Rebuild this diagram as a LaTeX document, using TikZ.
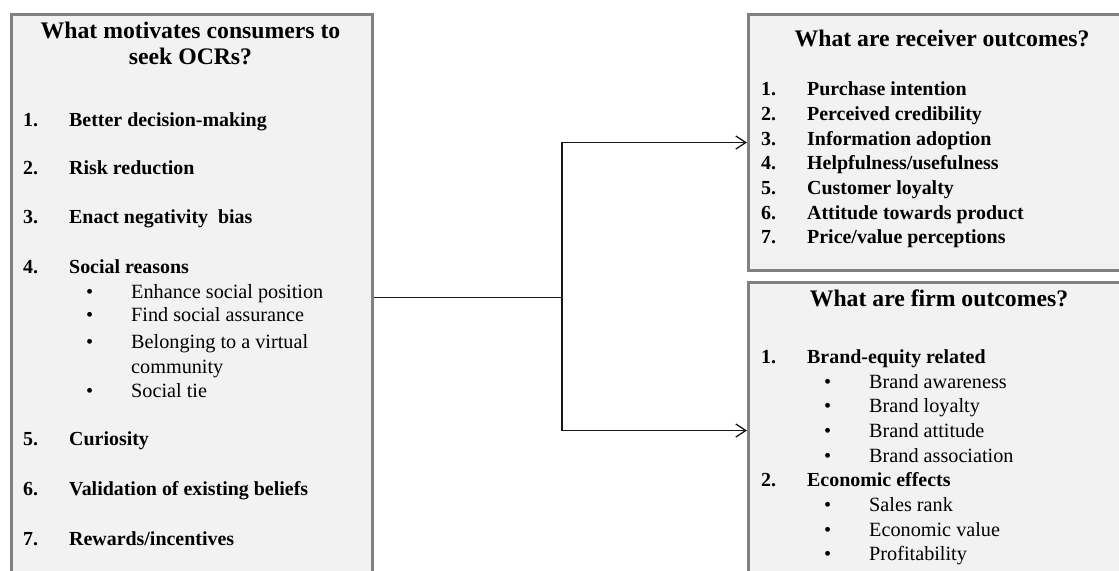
\documentclass[tikz,border=0pt]{standalone}
\usepackage{fontspec}
\setmainfont{Liberation Serif}
\usetikzlibrary{arrows.meta}
\definecolor{boxgray}{HTML}{808080}
\definecolor{boxfill}{HTML}{F2F2F2}
\begin{document}
\begin{tikzpicture}[x=1bp,y=-1bp,
 box/.style={draw=boxgray, line width=3bp, fill=boxfill, inner sep=0pt},
 ttl/.style={font=\fontsize{23.8}{28}\selectfont\bfseries, anchor=base, inner sep=0pt},
 itm/.style={font=\fontsize{20}{24}\selectfont\bfseries, anchor=base west, inner sep=0pt},
 sub/.style={font=\fontsize{20.3}{24}\selectfont, anchor=base west, inner sep=0pt},
 conn/.style={line width=1.3bp, draw=black!90},
 arr/.style={conn, -{Straight Barb[length=10bp,width=13bp]}}
]
\useasboundingbox (0,0) rectangle (1119,571);
\begin{scope}
\clip (0,0) rectangle (1119,571);
% boxes
\node[box, minimum width=361bp, minimum height=566bp, anchor=north west] (L) at (10,13) {};
\node[box, minimum width=420bp, minimum height=256bp, anchor=north west] (R1) at (747,13) {};
\node[box, minimum width=420bp, minimum height=296bp, anchor=north west] (R2) at (747,281) {};
\end{scope}
% connectors
\path (L.east) ++(188,0) coordinate (J);
\draw[conn] (L.east) -- (J);
\draw[arr] (J) |- (R1.west);
\draw[arr] (J) |- (R2.west);
% left box text
\node[ttl] (lt1) at (190.5,38.5) {What motivates consumers to};
\node[ttl] (lt2) at (190.5,65) {seek OCRs?};
\node[itm] (ln1) at (23,127) {1.};
\node[itm] (lx1) at (69,127) {Better decision-making};
\node[itm] (ln2) at (23,175) {2.};
\node[itm] (lx2) at (69,175) {Risk reduction};
\node[itm] (ln3) at (23,224) {3.};
\node[itm] (lx3) at (69,224) {Enact negativity\ \ bias};
\node[itm] (ln4) at (23,274) {4.};
\node[itm] (lx4) at (69,274) {Social reasons};
\node[sub] (lb1) at (86,299) {•};
\node[sub] (ls1) at (131,299) {Enhance social position};
\node[sub] (lb2) at (86,322) {•};
\node[sub] (ls2) at (131,322) {Find social assurance};
\node[sub] (lb3) at (86,348) {•};
\node[sub] (ls3) at (131,348) {Belonging to a virtual};
\node[sub] (ls3b) at (131,373) {community};
\node[sub] (lb4) at (86,397) {•};
\node[sub] (ls4) at (131,397) {Social tie};
\node[itm] (ln5) at (23,445) {5.};
\node[itm] (lx5) at (69,445) {Curiosity};
\node[itm] (ln6) at (23,495) {6.};
\node[itm] (lx6) at (69,495) {Validation of existing beliefs};
\node[itm] (ln7) at (23,545) {7.};
\node[itm] (lx7) at (69,545) {Rewards/incentives};
% right top text
\node[ttl] (rt) at (942,46.7) {What are receiver outcomes?};
\node[itm] (rn1) at (761,96) {1.};
\node[itm] (rx1) at (807,96) {Purchase intention};
\node[itm] (rn2) at (761,121) {2.};
\node[itm] (rx2) at (807,121) {Perceived credibility};
\node[itm] (rn3) at (761,146) {3.};
\node[itm] (rx3) at (807,146) {Information adoption};
\node[itm] (rn4) at (761,170) {4.};
\node[itm] (rx4) at (807,170) {Helpfulness/usefulness};
\node[itm] (rn5) at (761,195) {5.};
\node[itm] (rx5) at (807,195) {Customer loyalty};
\node[itm] (rn6) at (761,220) {6.};
\node[itm] (rx6) at (807,220) {Attitude towards product};
\node[itm] (rn7) at (761,244) {7.};
\node[itm] (rx7) at (807,244) {Price/value perceptions};
% right bottom text
\node[ttl] (ft) at (939,307) {What are firm outcomes?};
\node[itm] (fn1) at (761,363) {1.};
\node[itm] (fx1) at (807,363) {Brand-equity related};
\node[sub] (fb1) at (824,388) {•};
\node[sub] (fs1) at (869,388) {Brand awareness};
\node[sub] (fb2) at (824,412) {•};
\node[sub] (fs2) at (869,412) {Brand loyalty};
\node[sub] (fb3) at (824,437) {•};
\node[sub] (fs3) at (869,437) {Brand attitude};
\node[sub] (fb4) at (824,462) {•};
\node[sub] (fs4) at (869,462) {Brand association};
\node[itm] (fn2) at (761,486) {2.};
\node[itm] (fx2) at (807,486) {Economic effects};
\node[sub] (fb5) at (824,511) {•};
\node[sub] (fs5) at (869,511) {Sales rank};
\node[sub] (fb6) at (824,536) {•};
\node[sub] (fs6) at (869,536) {Economic value};
\node[sub] (fb7) at (824,560) {•};
\node[sub] (fs7) at (869,560) {Profitability};
\end{tikzpicture}
\end{document}
